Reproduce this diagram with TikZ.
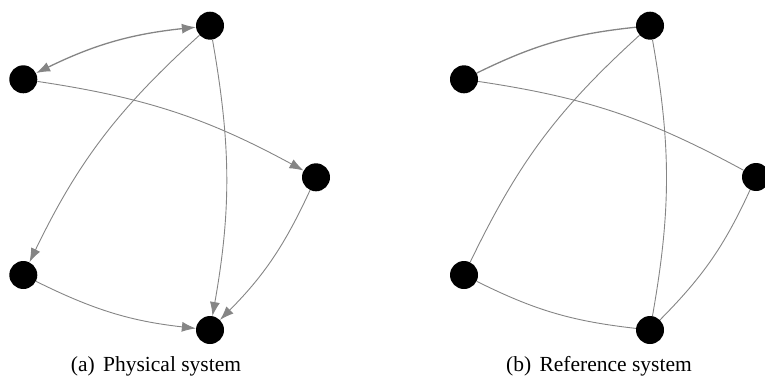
\documentclass[tikz,border=0pt]{standalone}
\usepackage{fontspec}
\setmainfont{Liberation Serif}
\usetikzlibrary{arrows.meta}
\definecolor{edgegray}{HTML}{858585}
\tikzset{
  vert/.style={circle,fill=black,draw=none,minimum size=28pt,inner sep=0pt},
  link/.style={draw=edgegray,line width=0.9pt},
  dirlink/.style={link,-{Latex[length=14pt,width=10pt]},edgegray},
  bilink/.style={link,line width=1.3pt,{Latex[length=14pt,width=10pt]}-{Latex[length=14pt,width=10pt]},edgegray},
  captext/.style={anchor=base,inner sep=0pt,font=\fontsize{21.5}{25}\selectfont}
}
\begin{document}
\begin{tikzpicture}[x=1pt,y=1pt]
\useasboundingbox (0,0) rectangle (765,376);
\clip (0,0) rectangle (765,376);
% (a) physical system
\node[vert] (aT)  at (210,350.3) {};
\node[vert] (aUL) at (23.3,296.7) {};
\node[vert] (aR)  at (316,198.7) {};
\node[vert] (aLL) at (23.3,101) {};
\node[vert] (aB)  at (210,46) {};
\draw[bilink] (aUL) to[bend left=10] (aT);
\draw[dirlink] (aT) to[bend right=11] (aLL);
\draw[dirlink] (aT) to[bend left=10] (aB);
\draw[dirlink] (aUL) to[bend left=10] (aR);
\draw[dirlink] (aR) to[bend left=10] (aB);
\draw[dirlink] (aLL) to[bend right=10] (aB);
\node[captext] (capa) at (156,5) {(a)\hspace{3pt} Physical system};
% (b) reference system
\node[vert] (bT)  at (650,350.3) {};
\node[vert] (bUL) at (464,296.7) {};
\node[vert] (bR)  at (756,199) {};
\node[vert] (bLL) at (464,101) {};
\node[vert] (bB)  at (650,46) {};
\draw[link,line width=1.3pt] (bUL) to[bend left=10] (bT);
\draw[link] (bT) to[bend right=11] (bLL);
\draw[link] (bT) to[bend left=10] (bB);
\draw[link] (bUL) to[bend left=10] (bR);
\draw[link] (bR) to[bend left=10] (bB);
\draw[link] (bLL) to[bend right=10] (bB);
\node[captext] (capb) at (599,5) {(b)\hspace{3pt} Reference system};
\end{tikzpicture}
\end{document}
